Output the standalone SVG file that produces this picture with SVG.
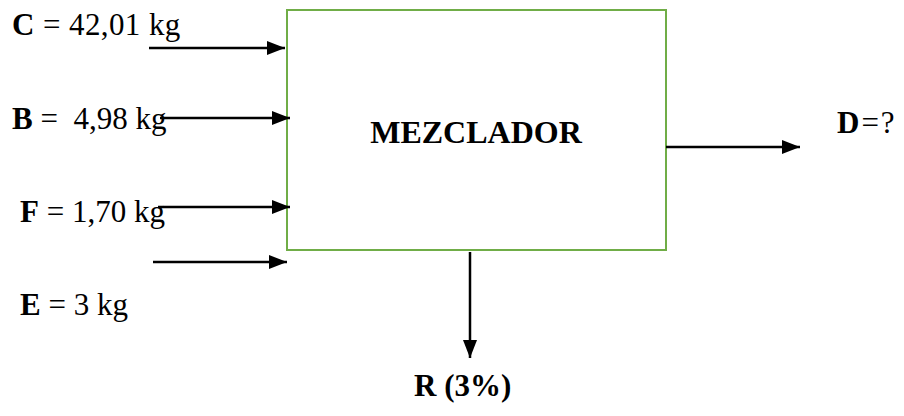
<svg xmlns="http://www.w3.org/2000/svg" width="904" height="416" viewBox="0 0 904 416">
<style>
.t{font-family:'Liberation Serif','Times New Roman',serif;fill:#000}
.lbl{font-size:31px}
.b{font-weight:bold}
.conn line{stroke:#000;stroke-width:2.5}
</style>
<defs>
<marker id="ah" markerWidth="18" markerHeight="14" refX="18" refY="7" orient="auto" markerUnits="userSpaceOnUse">
<path d="M0,0 L18,7 L0,14 Z" fill="#000"/>
</marker>
</defs>
<rect width="904" height="416" fill="#fff"/>
<g id="mezclador">
<rect x="287" y="10" width="379" height="240" fill="#fff" stroke="#70AD47" stroke-width="2"/>
<text x="476" y="143" text-anchor="middle" class="t b" font-size="32">MEZCLADOR</text>
</g>
<g id="c"><text x="12" y="35" class="t lbl" letter-spacing="0.4"><tspan class="b">C</tspan> = 42,01 kg</text></g>
<g id="b"><text x="12" y="129" class="t lbl"><tspan class="b">B</tspan> =&#160; 4,98 kg</text></g>
<g id="f"><text x="20" y="222" class="t lbl"><tspan class="b">F</tspan> = 1,70 kg</text></g>
<g id="e"><text x="20" y="315" class="t lbl"><tspan class="b">E</tspan> = 3 kg</text></g>
<g id="d"><text x="837" y="133" class="t lbl" letter-spacing="2"><tspan class="b">D</tspan>=?</text></g>
<g id="r"><text x="414" y="396" class="t lbl b">R (3%)</text></g>
<g class="conn">
<line x1="149" y1="48" x2="285" y2="48" marker-end="url(#ah)"/>
<line x1="160" y1="118" x2="290" y2="118" marker-end="url(#ah)"/>
<line x1="158" y1="207" x2="290" y2="207" marker-end="url(#ah)"/>
<line x1="153" y1="262" x2="287" y2="262" marker-end="url(#ah)"/>
<line x1="666" y1="147" x2="800" y2="147" marker-end="url(#ah)"/>
<line x1="470" y1="252" x2="470" y2="358" marker-end="url(#ah)"/>
</g>
</svg>
